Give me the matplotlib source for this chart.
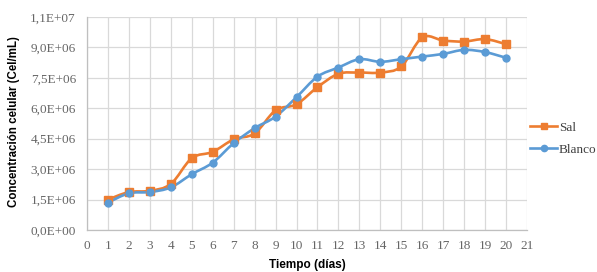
import numpy as np
import matplotlib
matplotlib.use("Agg")
import matplotlib.pyplot as plt
from matplotlib.path import Path
from matplotlib.patches import PathPatch
from matplotlib.ticker import FuncFormatter, MultipleLocator
from matplotlib.lines import Line2D

days = [1, 2, 3, 4, 5, 6, 7, 8, 9, 10, 11, 12, 13, 14, 15, 16, 17, 18, 19, 20]
sal = [1.50e6, 1.87e6, 1.93e6, 2.27e6, 3.54e6, 3.85e6, 4.47e6, 4.76e6, 5.90e6, 6.20e6,
       7.04e6, 7.70e6, 7.76e6, 7.76e6, 8.06e6, 9.49e6, 9.34e6, 9.29e6, 9.41e6, 9.16e6]
blanco = [1.35e6, 1.81e6, 1.87e6, 2.10e6, 2.75e6, 3.32e6, 4.28e6, 5.02e6, 5.59e6, 6.55e6,
          7.56e6, 8.01e6, 8.42e6, 8.29e6, 8.42e6, 8.55e6, 8.68e6, 8.88e6, 8.77e6, 8.49e6]
series_names = ["Sal", "Blanco"]
colors = ["#ED7D31", "#5B9BD5"]
markers = ["s", "o"]

W, H = 597, 272
fig = plt.figure(figsize=(W / 100, H / 100), dpi=100)
ax = fig.add_axes([87 / W, 1 - 230 / H, 440 / W, 213 / H])


def smooth_path(xs, ys, t=1/6):
    xs = np.asarray(xs, float); ys = np.asarray(ys, float)
    verts = [(xs[0], ys[0])]
    codes = [Path.MOVETO]
    n = len(xs)
    for i in range(n - 1):
        p0 = (xs[max(i - 1, 0)], ys[max(i - 1, 0)])
        p1 = (xs[i], ys[i])
        p2 = (xs[i + 1], ys[i + 1])
        p3 = (xs[min(i + 2, n - 1)], ys[min(i + 2, n - 1)])
        c1 = (p1[0] + (p2[0] - p0[0]) * t, p1[1] + (p2[1] - p0[1]) * t)
        c2 = (p2[0] - (p3[0] - p1[0]) * t, p2[1] - (p3[1] - p1[1]) * t)
        verts += [c1, c2, p2]
        codes += [Path.CURVE4] * 3
    return Path(verts, codes)


handles = []
for name, vals, c, m in zip(series_names, [sal, blanco], colors, markers):
    ax.add_patch(PathPatch(smooth_path(days, vals), facecolor="none", edgecolor=c,
                           lw=1.9, zorder=3, capstyle="round", joinstyle="round"))
    ax.plot(days, vals, linestyle="none", marker=m, markersize=5.5 if m == "s" else 5,
            color=c, zorder=4)
    handles.append(Line2D([], [], color=c, lw=1.9, marker=m,
                          markersize=5 if m == "s" else 4.5, label=name))

ax.set_xlim(0, 21)
ax.set_ylim(0, 1.05e7)
ax.xaxis.set_major_locator(MultipleLocator(1))
ax.yaxis.set_major_locator(MultipleLocator(1.5e6))


def fmt(v, pos):
    if v == 0:
        return "0,0E+00"
    e = int(np.floor(np.log10(abs(v))))
    m = v / 10 ** e
    s = f"{m:.1f}"
    if s == "10.0":
        s = "1.0"; e += 1
    return s.replace(".", ",") + f"E+{e:02d}"


ax.yaxis.set_major_formatter(FuncFormatter(fmt))
ax.grid(True, color="#D9D9D9", lw=0.9)
ax.set_axisbelow(True)
for s in ["top", "right"]:
    ax.spines[s].set_visible(False)
for s in ["left", "bottom"]:
    ax.spines[s].set_color("#BFBFBF")
    ax.spines[s].set_linewidth(0.9)
ax.tick_params(axis="y", length=0, labelsize=9.5, labelcolor="#666666", pad=8)
ax.tick_params(axis="x", length=0, labelsize=9.5, labelcolor="#666666", pad=7)
for lab in ax.get_xticklabels() + ax.get_yticklabels():
    lab.set_family("Liberation Serif")

ax.set_xlabel("Tiempo (días)", fontsize=8.5, fontweight="bold", family="Liberation Sans")
ax.xaxis.set_label_coords(0.5, (230 - 259) / 213)
ax.set_ylabel("Concentración celular (Cel/mL)", fontsize=8.3, fontweight="bold",
              family="Liberation Sans")
ax.yaxis.set_label_coords((20 - 87) / 440, 0.51)

leg = fig.legend(handles=handles, loc="center left",
                 bbox_to_anchor=(530 / W, 1 - 138.5 / H),
                 frameon=False, prop={"family": "Liberation Serif", "size": 9.5},
                 handlelength=2.05, handletextpad=0.15, labelspacing=0.75,
                 borderpad=0, borderaxespad=0)
for t in leg.get_texts():
    t.set_color("#404040")

fig.savefig("out.png", dpi=100)
